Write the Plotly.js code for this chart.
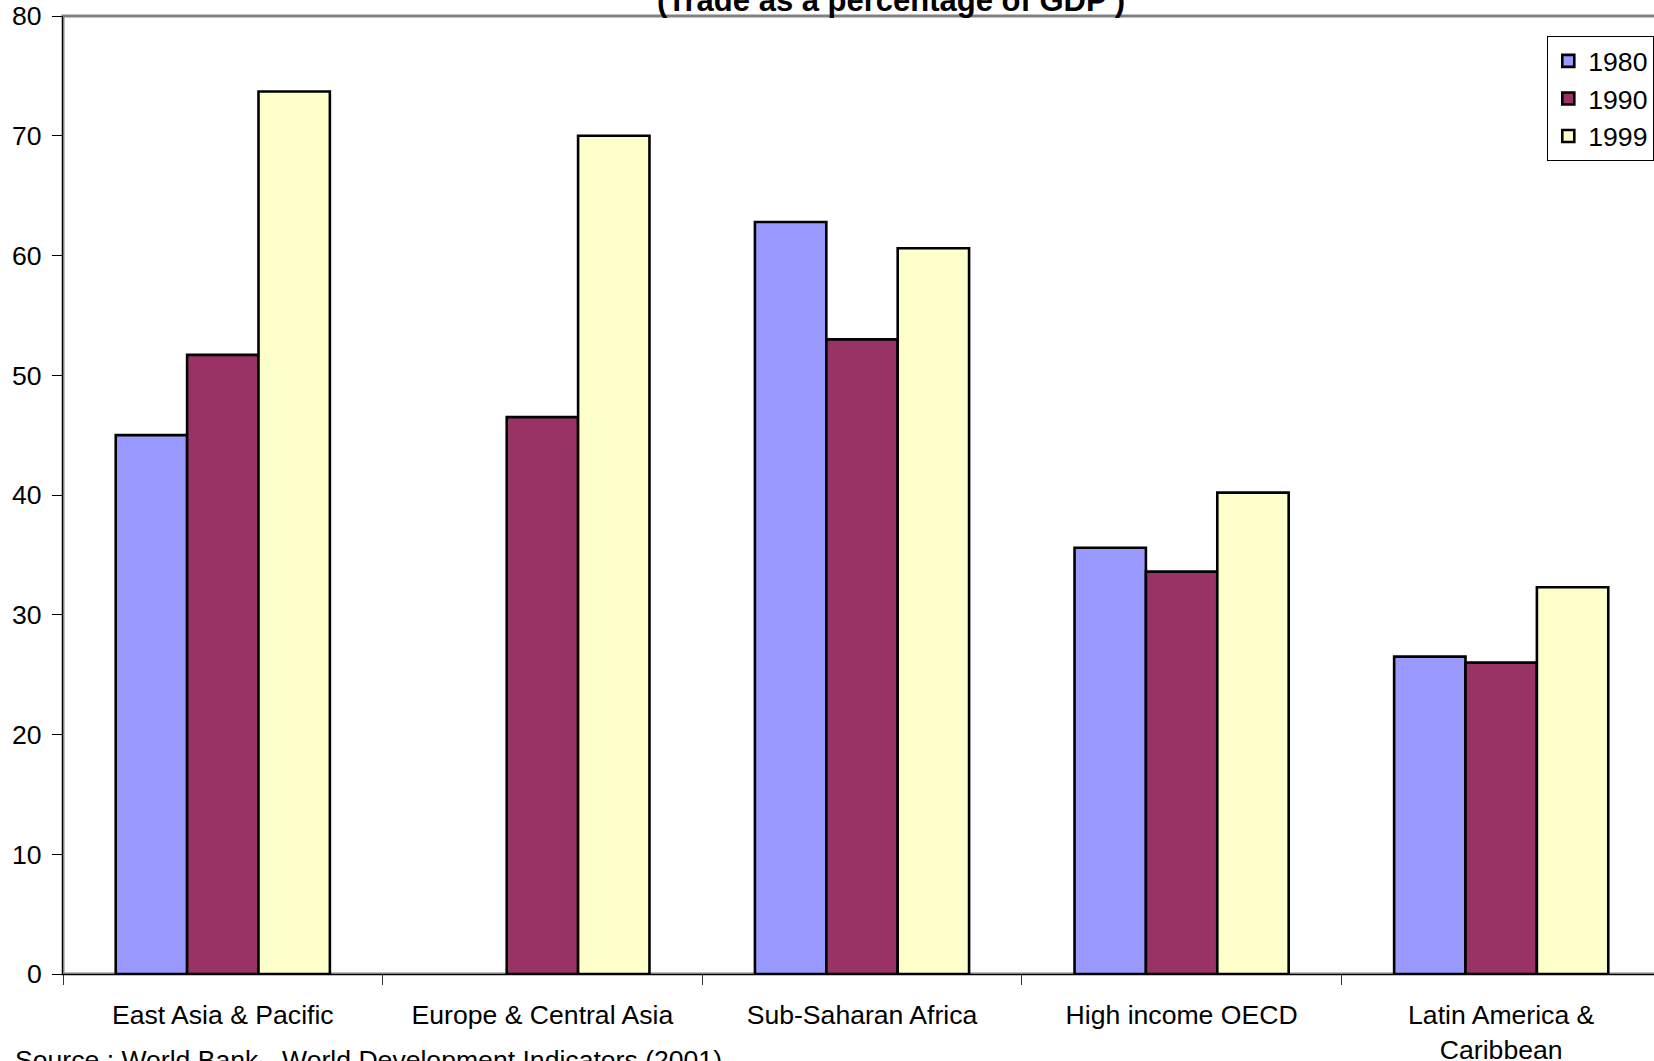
<!DOCTYPE html>
<html>
<head>
<meta charset="utf-8">
<script src="https://cdn.plot.ly/plotly-3.0.1.min.js"></script>
<style>
  html, body { margin: 0; padding: 0; background: #ffffff; overflow: hidden; }
  #chart { width: 1662px; height: 1061px; }
</style>
</head>
<body>
<div id="chart"></div>
<script>
// Regions compared
const regions = [
  'East Asia & Pacific',
  'Europe & Central Asia',
  'Sub-Saharan Africa',
  'High income OECD',
  'Latin America &<br>Caribbean'
];

// Trade as a percentage of GDP, by year
const years = ['1980', '1990', '1999'];
const trade1980 = [45.0, null, 62.8, 35.6, 26.5];
const trade1990 = [51.7, 46.5, 53.0, 33.6, 26.0];
const trade1999 = [73.7, 70.0, 60.6, 40.2, 32.3];

const seriesValues = [trade1980, trade1990, trade1999];
const seriesColors = ['#9999FF', '#993366', '#FFFFCC'];

const titleText = '(Trade as a percentage of GDP )';
const sourceText = 'Source : World Bank - World Development Indicators (2001)';

const FONT = 'Liberation Sans, Arial, Helvetica, sans-serif';

const traces = years.map((yr, i) => ({
  type: 'bar',
  name: yr,
  x: regions,
  y: seriesValues[i],
  legendgroup: yr,
  marker: {
    color: seriesColors[i],
    line: { color: '#000000', width: 2.6 }
  },
  hoverinfo: 'x+y+name'
}));

const layout = {
  width: 1662,
  height: 1061,
  margin: { l: 63, r: 1, t: 16, b: 87, pad: 0 },
  paper_bgcolor: '#ffffff',
  plot_bgcolor: '#ffffff',
  font: { family: FONT, size: 26.6, color: '#000000' },
  barmode: 'group',
  bargap: 0.33,
  bargroupgap: 0,
  showlegend: true,
  legend: {
    x: 0.9958,
    xanchor: 'right',
    y: 0.979,
    yanchor: 'top',
    bgcolor: '#ffffff',
    bordercolor: '#000000',
    borderwidth: 1,
    font: { family: FONT, size: 26.6, color: '#000000' },
    tracegroupgap: 1.5,
    traceorder: 'normal'
  },
  xaxis: {
    type: 'category',
    tickson: 'boundaries',
    ticks: 'outside',
    ticklen: 10,
    tickwidth: 1,
    tickcolor: '#333333',
    showline: true,
    linecolor: '#000000',
    linewidth: 1,
    showgrid: false,
    zeroline: false,
    tickfont: { family: FONT, size: 26.6, color: '#000000' },
    ticklabelstandoff: 17,
    tickangle: 0,
    fixedrange: true
  },
  yaxis: {
    range: [0, 80],
    dtick: 10,
    tick0: 0,
    ticks: 'outside',
    ticklen: 10,
    tickwidth: 1,
    tickcolor: '#000000',
    showline: true,
    linecolor: '#000000',
    linewidth: 1,
    showgrid: false,
    zeroline: false,
    tickfont: { family: FONT, size: 26.6, color: '#000000' },
    ticklabelstandoff: 5,
    fixedrange: true
  },
  shapes: [
    {
      type: 'rect',
      xref: 'paper', yref: 'paper',
      x0: 0, x1: 1, y0: 0, y1: 1,
      line: { color: '#808080', width: 3 },
      fillcolor: 'rgba(0,0,0,0)',
      layer: 'below'
    }
  ],
  annotations: [
    {
      text: '<b>' + titleText + '</b>',
      xref: 'paper', yref: 'paper',
      x: 0.5184, y: 1.0165,
      xanchor: 'center', yanchor: 'middle',
      showarrow: false,
      font: { family: FONT, size: 31, color: '#000000' }
    },
    {
      text: sourceText,
      xref: 'paper', yref: 'paper',
      x: -0.0313, y: -0.0895,
      xanchor: 'left', yanchor: 'middle',
      showarrow: false,
      font: { family: FONT, size: 26.6, color: '#000000' }
    }
  ]
};

Plotly.newPlot('chart', traces, layout, { displayModeBar: false, staticPlot: true });
</script>
</body>
</html>
